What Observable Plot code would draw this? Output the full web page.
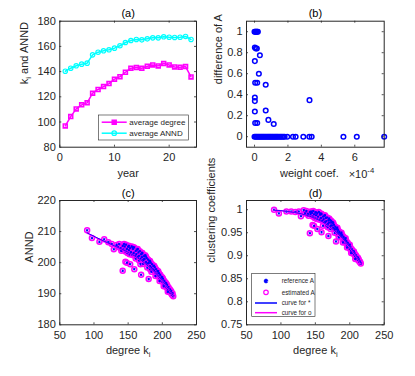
<!DOCTYPE html>
<html><head><meta charset="utf-8">
<script src="https://cdn.jsdelivr.net/npm/d3@7"></script>
<script src="https://cdn.jsdelivr.net/npm/@observablehq/plot@0.6"></script>
<style>
html,body{margin:0;padding:0;background:#fff;}
#fig{position:relative;width:415px;height:376px;overflow:hidden;background:#fff;}
#fig svg{position:absolute;left:0;top:0;}
</style></head><body><div id="fig"></div>
<script>
// ---------- panel (a) ----------
const years = [1,2,3,4,5,6,7,8,9,10,11,12,13,14,15,16,17,18,19,20,21,22,23,24];
const avgDegree = [96.9,104.3,110.4,113.6,115.2,122.9,125.8,128.1,130.5,134.0,136.0,139.5,142.7,143.2,142.7,144.3,145.3,144.5,146.4,145.3,143.7,143.5,144.0,135.8];
const avgAnnd = [140.3,142.7,144.6,145.9,146.7,153.3,155.4,156.5,157.3,158.6,160.5,163.1,164.7,165.5,165.2,166.0,166.8,166.8,167.6,167.3,167.1,167.3,167.9,165.5];
const aXTicks = [0,10,20], aYTicks = [80,100,120,140,160,180];

// ---------- panel (b) ----------
const weightCoef = [0,0.04,0.08,0.12,0.16,0.2, 0.02,0.08,0.14, 0.32,0.02,0.26,0.04,0.16,0.67,0.02,0.02,3.29,0.02,0.67,0.83,1.15,0.04,0.16,
  0,0.07,0.14,0.21,0.28,0.35,0.42,0.49,0.56,0.63,0.7,0.77,0.84,0.91,0.98,1.05,1.12,1.19,1.26,1.33,1.4,1.48,1.56,1.64,1.72,1.8,1.96,2.3,2.46,2.92,3.28,3.42,5.32,6.12,7.76];
const diffA = [1,1,1,1,1,1, 0.85,0.84,0.84, 0.776,0.72,0.6,0.514,0.514,0.495,0.374,0.339,0.348,0.24,0.249,0.16,0.121,0.131,0.131,
  0,0,0,0,0,0,0,0,0,0,0,0,0,0,0,0,0,0,0,0,0,0,0,0,0,0,0,0,0,0,0,0,0,0,0];
const bXTicks = [0,2,4,6], bYTicks = [0,0.2,0.4,0.6,0.8,1];

// ---------- panels (c),(d): nodes ----------
const degree = [90,97,108,115,121,126,129,133,135,137,139,140,142,143,145,146,147,148,149,150,151,152,153,154,155,156,157,158,159,160,161,162,163,164,165,166,167,168,169,170,171,172,173,174,175,176,177,178,179,180,181,182,183,184,185,186,187,188,189,190,191,192,193,194,195,196,197,198,199,200,201,202,203,204,205,206,207,208,209,210,211,212,213,214,215,216,
  144,151,157,164,170,176,182,188,194,200,206,212,166,172,178,184,190,196,202,208,
  142,148,153,159,161,168,169,173,180,182];
const annd = [210.4,207.9,206.7,207.5,206.6,206.0,204.3,205.7,205.0,206.0,204.6,203.8,205.4,204.2,205.2,203.6,205.8,204.4,203.1,205.1,204.0,202.7,204.7,203.4,205.2,202.5,204.4,203.1,204.9,202.2,203.8,202.7,204.2,201.8,203.3,202.2,203.7,201.2,202.7,201.8,203.0,200.8,202.1,201.2,202.4,200.2,201.5,199.7,201.0,199.9,200.6,198.9,200.0,198.4,199.5,197.8,198.9,197.5,198.5,196.8,197.9,196.2,197.3,195.7,196.6,195.1,196.1,194.6,195.4,193.9,194.8,193.3,194.1,192.7,193.5,192.1,192.8,191.4,192.1,190.8,191.4,190.3,190.8,189.7,190.1,189.2,
  206.0,205.4,205.0,204.4,203.2,202.0,200.5,199.0,197.2,195.2,193.2,191.0,200.7,199.6,198.4,197.1,195.7,194.1,192.4,190.6,
  197.4,200.0,199.5,197.9,201.3,199.5,196.1,201.1,194.7,197.9];
const clust = [1.000,0.992,0.996,0.996,0.995,0.996,0.986,0.999,0.992,0.997,0.991,0.987,0.995,0.990,0.993,0.985,0.997,0.990,0.982,0.994,0.988,0.980,0.992,0.985,0.995,0.978,0.989,0.982,0.991,0.976,0.985,0.979,0.987,0.973,0.982,0.975,0.983,0.969,0.977,0.972,0.978,0.965,0.972,0.966,0.973,0.961,0.967,0.958,0.963,0.957,0.960,0.951,0.956,0.948,0.952,0.944,0.948,0.941,0.945,0.936,0.941,0.932,0.936,0.928,0.932,0.924,0.928,0.920,0.923,0.915,0.918,0.911,0.914,0.907,0.910,0.903,0.905,0.899,0.901,0.895,0.897,0.891,0.892,0.887,0.887,0.883,
  0.996,0.994,0.992,0.988,0.981,0.971,0.961,0.950,0.938,0.924,0.909,0.895,0.966,0.958,0.950,0.940,0.929,0.918,0.906,0.893,
  0.949,0.965,0.958,0.951,0.965,0.962,0.943,0.976,0.931,0.948];
// estimated values that differ from the reference
const estOnlyDegree = [146], estOnlyAnnd = [200.3], estOnlyClust = [0.967];
// fitted curves
const curveDeg = [90,100,110,120,130,140,150,160,170,180,190,200,210,216];
const curveAnndRef = [209.6,208.5,207.4,206.4,205.4,204.4,203.3,202.1,200.6,198.8,196.7,194.2,191.3,189.4];
const curveAnndEst = [209.5,208.4,207.3,206.3,205.3,204.3,203.2,202.0,200.5,198.7,196.6,194.1,191.2,189.3];
const curveClustRef = [0.999,0.998,0.996,0.994,0.991,0.987,0.981,0.974,0.964,0.952,0.937,0.919,0.898,0.884];
const curveClustEst = [0.999,0.998,0.996,0.994,0.991,0.987,0.981,0.973,0.963,0.951,0.936,0.918,0.897,0.883];
const cdXTicks = [50,100,150,200,250];
const cYTicks = [180,190,200,210,220];
const dYTicks = [0.75,0.8,0.85,0.9,0.95,1];

// ---------- helpers ----------
const W = 415, H = 376, INK = "#262626";
const MAG = "#ff00ff", CYA = "#00ffff", BLU = "#0000ff";
const FONT = "'Liberation Sans', Arial, Helvetica, sans-serif";
const fig = document.getElementById("fig");

function panel(o) {
  const [x0, x1, y0, y1] = o.box;
  const fw = x1 - x0, fh = y1 - y0;
  const tk = {stroke: INK, strokeWidth: 0.8};
  const svg = Plot.plot({
    width: W, height: H,
    marginLeft: x0, marginRight: W - x1, marginTop: y0, marginBottom: H - y1,
    style: {background: "none", fontFamily: FONT, fontSize: "11px", color: INK, overflow: "visible"},
    x: {domain: o.xDomain, axis: null},
    y: {domain: o.yDomain, axis: null},
    marks: [
      ...o.marks,
      Plot.tickX(o.xTicks, {x: d => d, insetTop: fh - 2, ...tk}),
      Plot.tickX(o.xTicks, {x: d => d, insetBottom: fh - 2, ...tk}),
      Plot.tickY(o.yTicks, {y: d => d, insetRight: fw - 2, ...tk}),
      Plot.tickY(o.yTicks, {y: d => d, insetLeft: fw - 2, ...tk}),
      Plot.frame({stroke: INK, strokeWidth: 1}),
      Plot.text(o.xTicks, {x: d => d, frameAnchor: "bottom", dy: 10.5, lineAnchor: "middle", text: d => String(d), fill: INK}),
      Plot.text(o.yTicks, {y: d => d, frameAnchor: "left", dx: -4, textAnchor: "end", lineAnchor: "middle", text: d => String(d), fill: INK}),
      Plot.text([o.title], {frameAnchor: "top", dy: -7.5, lineAnchor: "middle", text: d => d, fill: "#000"}),
      Plot.text([o.xLabel], {frameAnchor: "bottom", dx: o.xLabelDx || 0, dy: 26, lineAnchor: "middle", text: d => d, fill: INK}),
      Plot.text([o.yLabel], {frameAnchor: "left", dx: o.yLabelDx, rotate: -90, lineAnchor: "middle", text: d => d, fill: INK}),
      ...(o.extra || [])
    ]
  });
  // subscripts / superscripts
  d3.select(svg).selectAll("text").each(function () {
    const t = this.textContent;
    if (t.includes("_i")) {
      const [a, b] = t.split("_i");
      const s = d3.select(this); s.text(null);
      s.append("tspan").text(a);
      s.append("tspan").attr("font-size", "0.7em").attr("dy", "0.35em").text("i");
      if (b) s.append("tspan").attr("dy", "-0.25em").text(b);
    } else if (t.includes("^")) {
      const [a, b] = t.split("^");
      const s = d3.select(this); s.text(null);
      s.append("tspan").text(a);
      s.append("tspan").attr("font-size", "0.7em").attr("dy", "-0.55em").text(b);
    }
  });
  fig.appendChild(svg);
  return d3.select(svg);
}

function legend(svg, box, rows, fs) {
  const g = svg.append("g").attr("font-family", FONT).attr("font-size", fs + "px").attr("text-anchor", "start");
  g.append("rect").attr("x", box.x).attr("y", box.y).attr("width", box.w).attr("height", box.h)
    .attr("fill", "#fff").attr("stroke", INK).attr("stroke-width", 0.6);
  rows.forEach(r => {
    if (r.line) g.append("line").attr("x1", box.lx0).attr("x2", box.lx1).attr("y1", r.y).attr("y2", r.y)
      .attr("stroke", r.color).attr("stroke-width", r.lw || 1.5);
    const mx = (box.lx0 + box.lx1) / 2;
    if (r.sym) {
      const sym = {square: d3.symbolSquare, circle: d3.symbolCircle, star: d3.symbolAsterisk}[r.sym];
      g.append("path").attr("transform", `translate(${mx},${r.y})`).attr("d", d3.symbol(sym, r.size)())
        .attr("fill", r.fill || "none").attr("stroke", r.color).attr("stroke-width", r.sw || 1.2);
    }
    g.append("text").attr("x", box.tx).attr("y", r.y).attr("dy", "0.35em").attr("text-anchor", "start")
      .attr("fill", INK).text(r.label);
  });
}

// ---------- (a) ----------
const rowsA = years.map((y, i) => ({year: y, deg: avgDegree[i], annd: avgAnnd[i]}));
const svgA = panel({
  box: [59.3, 196, 20.7, 146.7], xDomain: [0, 25], yDomain: [80, 180],
  xTicks: aXTicks, yTicks: aYTicks, title: "(a)", xLabel: "year", yLabel: "k_i and ANND", yLabelDx: -35,
  marks: [
    Plot.line(rowsA, {x: "year", y: "deg", stroke: MAG, strokeWidth: 1.5}),
    Plot.dot(rowsA, {x: "year", y: "deg", symbol: "square", r: 2.2, stroke: MAG, strokeWidth: 1.6, fill: "none"}),
    Plot.line(rowsA, {x: "year", y: "annd", stroke: CYA, strokeWidth: 1.5}),
    Plot.dot(rowsA, {x: "year", y: "annd", symbol: "circle", r: 2.2, stroke: CYA, strokeWidth: 1.2, fill: "none"})
  ]
});
legend(svgA, {x: 98.3, y: 115, w: 90, h: 25, lx0: 101.7, lx1: 126.7, tx: 129.3}, [
  {y: 122.2, line: true, color: MAG, sym: "square", size: 18, fill: MAG, label: "average degree"},
  {y: 133.2, line: true, color: CYA, sym: "circle", size: 16, label: "average ANND"}
], 8);

// ---------- (b) ----------
const rowsB = weightCoef.map((w, i) => ({w, d: diffA[i]}));
panel({
  box: [246, 383.7, 20.7, 146.7], xDomain: [-0.48, 7.76], yDomain: [-0.1, 1.1],
  xTicks: bXTicks, yTicks: bYTicks, title: "(b)", xLabel: "weight coef.", xLabelDx: -6, yLabel: "difference of A", yLabelDx: -28,
  marks: [
    Plot.dot(rowsB, {x: "w", y: "d", r: 2.3, stroke: BLU, strokeWidth: 1.5, fill: "none"})
  ],
  extra: [
    Plot.text(["×10^-4"], {frameAnchor: "bottom-right", textAnchor: "end", dx: -10, dy: 27, lineAnchor: "middle", text: d => d, fill: INK})
  ]
});

// ---------- (c),(d) ----------
const nodes = degree.map((k, i) => ({k, annd: annd[i], cc: clust[i]}));
const estNodes = nodes.concat(estOnlyDegree.map((k, i) => ({k, annd: estOnlyAnnd[i], cc: estOnlyClust[i]})));
const curves = curveDeg.map((k, i) => ({k, aR: curveAnndRef[i], aE: curveAnndEst[i], cR: curveClustRef[i], cE: curveClustEst[i]}));

panel({
  box: [59.3, 196, 200, 324.3], xDomain: [50, 250], yDomain: [180, 220],
  xTicks: cdXTicks, yTicks: cYTicks, title: "(c)", xLabel: "degree k_i", yLabel: "ANND", yLabelDx: -30,
  marks: [
    Plot.dot(estNodes, {x: "k", y: "annd", r: 2.5, stroke: MAG, strokeWidth: 1.5, fill: "none"}),
    Plot.dot(nodes, {x: "k", y: "annd", symbol: "asterisk", r: 1.2, stroke: BLU, strokeWidth: 1}),
    Plot.line(curves, {x: "k", y: "aE", stroke: MAG, strokeWidth: 1.5}),
    Plot.line(curves, {x: "k", y: "aR", stroke: BLU, strokeWidth: 0.8})
  ]
});

const svgD = panel({
  box: [246, 383.7, 200, 324.3], xDomain: [50, 250], yDomain: [0.75, 1.02],
  xTicks: cdXTicks, yTicks: dYTicks, title: "(d)", xLabel: "degree k_i", yLabel: "clustering coefficients", yLabelDx: -35,
  marks: [
    Plot.dot(estNodes, {x: "k", y: "cc", r: 2.5, stroke: MAG, strokeWidth: 1.5, fill: "none"}),
    Plot.dot(nodes, {x: "k", y: "cc", symbol: "asterisk", r: 1.2, stroke: BLU, strokeWidth: 1}),
    Plot.line(curves, {x: "k", y: "cE", stroke: MAG, strokeWidth: 1.5}),
    Plot.line(curves, {x: "k", y: "cR", stroke: BLU, strokeWidth: 0.8})
  ]
});
legend(svgD, {x: 251.7, y: 273.3, w: 63.3, h: 43.4, lx0: 255, lx1: 277, tx: 281.7}, [
  {y: 281, color: BLU, sym: "star", size: 14, sw: 1.6, label: "reference A"},
  {y: 292.3, color: MAG, sym: "circle", size: 16, label: "estimated A"},
  {y: 303, line: true, color: BLU, label: "curve for *"},
  {y: 312.7, line: true, color: MAG, label: "curve for o"}
], 6.3);
</script></body></html>
